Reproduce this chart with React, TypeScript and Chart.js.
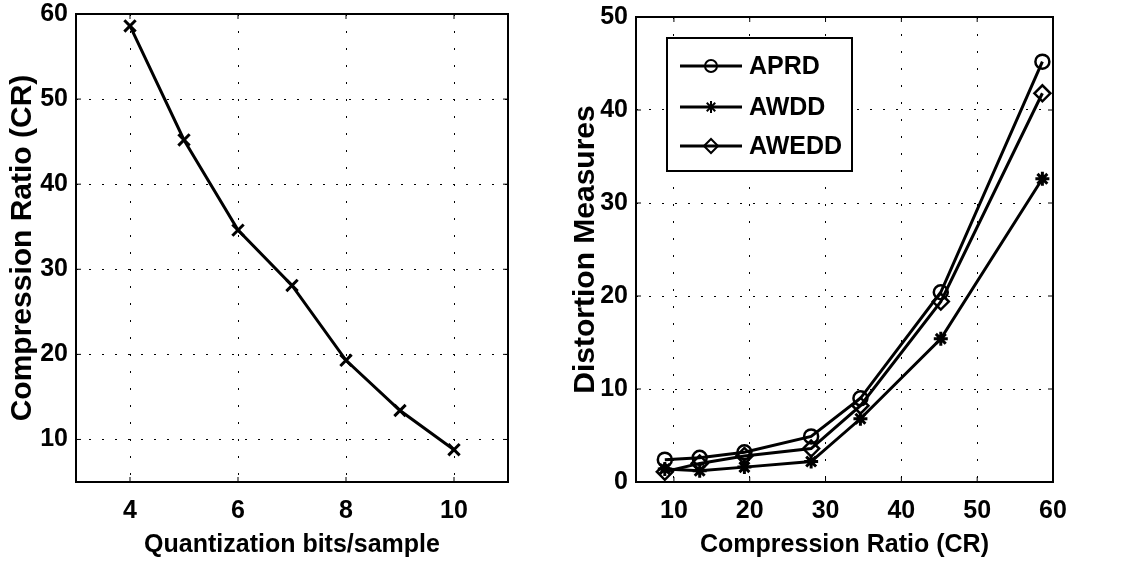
import React, { useEffect, useRef } from "react";
import { Chart, registerables } from "chart.js";
import { drawPoint } from "chart.js/helpers";

Chart.register(...registerables);

// ---------- data ----------
const bitsPerSample = [4, 5, 6, 7, 8, 9, 10];
const compressionRatio = [58.6, 45.2, 34.6, 28.1, 19.3, 13.4, 8.8];

const leftXTicks = [4, 6, 8, 10];
const leftYTicks = [10, 20, 30, 40, 50, 60];

const crValues = [8.8, 13.4, 19.3, 28.1, 34.6, 45.2, 58.6];
const aprd = [2.4, 2.6, 3.2, 4.9, 9.0, 20.4, 45.2];
const awdd = [1.4, 1.2, 1.6, 2.2, 6.8, 15.4, 32.6];
const awedd = [1.1, 2.0, 2.8, 3.6, 8.2, 19.4, 41.8];

const rightXTicks = [10, 20, 30, 40, 50, 60];
const rightYTicks = [0, 10, 20, 30, 40, 50];

const seriesNames = ["APRD", "AWDD", "AWEDD"];

const FONT = "'Liberation Sans', Arial, Helvetica, sans-serif";

const framePlugin = {
  id: "frame",
  afterDatasetsDraw(chart: any) {
    const { ctx, chartArea: a } = chart;
    ctx.save();
    ctx.strokeStyle = "#000";
    ctx.lineWidth = 2;
    ctx.setLineDash([]);
    ctx.strokeRect(a.left, a.top, a.right - a.left, a.bottom - a.top);
    ctx.lineWidth = 1;
    const xs = chart.scales.x;
    const ys = chart.scales.y;
    xs.ticks.forEach((t: any) => {
      const px = xs.getPixelForValue(t.value);
      ctx.beginPath();
      ctx.moveTo(px, a.bottom);
      ctx.lineTo(px, a.bottom - 5);
      ctx.moveTo(px, a.top);
      ctx.lineTo(px, a.top + 5);
      ctx.stroke();
    });
    ys.ticks.forEach((t: any) => {
      const py = ys.getPixelForValue(t.value);
      ctx.beginPath();
      ctx.moveTo(a.left, py);
      ctx.lineTo(a.left + 5, py);
      ctx.moveTo(a.right, py);
      ctx.lineTo(a.right - 5, py);
      ctx.stroke();
    });
    ctx.restore();
  },
};

const boxLegendPlugin = {
  id: "boxLegend",
  afterDraw(chart: any) {
    const { ctx, chartArea: a } = chart;
    const x0 = a.left + 31;
    const y0 = a.top + 21;
    const w = 185;
    const h = 133;
    ctx.save();
    ctx.fillStyle = "#fff";
    ctx.fillRect(x0, y0, w, h);
    ctx.strokeStyle = "#000";
    ctx.lineWidth = 2;
    ctx.setLineDash([]);
    ctx.strokeRect(x0, y0, w, h);
    const rows = [y0 + 28, y0 + 69, y0 + 108];
    chart.data.datasets.forEach((ds: any, i: number) => {
      const y = rows[i];
      ctx.strokeStyle = "#000";
      ctx.lineWidth = 3;
      ctx.beginPath();
      ctx.moveTo(x0 + 13, y);
      ctx.lineTo(x0 + 75, y);
      ctx.stroke();
      ctx.lineWidth = 2;
      ctx.fillStyle = "rgba(0,0,0,0)";
      drawPoint(
        ctx,
        {
          pointStyle: ds.pointStyle,
          radius: ds.pointRadius - 1,
          borderWidth: 2,
          rotation: 0,
        } as any,
        x0 + 44,
        y
      );
      ctx.fillStyle = "#000";
      ctx.font = `bold 25px ${FONT}`;
      ctx.textBaseline = "middle";
      ctx.textAlign = "left";
      ctx.fillText(ds.label, x0 + 82, y + 1);
    });
    ctx.restore();
  },
};

function axisBase(ticks: number[], dash: number[]) {
  return {
    type: "linear" as const,
    afterBuildTicks: (s: any) => {
      s.ticks = ticks.map((v) => ({ value: v }));
    },
    grid: {
      color: "#000",
      lineWidth: 1,
      drawTicks: false,
    },
    border: { display: false, dash },
  };
}

const tickFont = { family: FONT, size: 25, weight: "bold" as const };

function LeftChart() {
  const ref = useRef<HTMLCanvasElement>(null);
  useEffect(() => {
    const chart = new Chart(ref.current!, {
      type: "line",
      data: {
        datasets: [
          {
            label: "CR",
            data: bitsPerSample.map((b, i) => ({ x: b, y: compressionRatio[i] })),
            borderColor: "#000",
            borderWidth: 3,
            pointStyle: "crossRot",
            pointRadius: 8,
            pointBorderWidth: 3,
            pointBorderColor: "#000",
            pointBackgroundColor: "#000",
            tension: 0,
            clip: false,
          } as any,
        ],
      },
      options: {
        responsive: false,
        animation: false,
        layout: { padding: { top: 14, right: 52, left: 0, bottom: 0 } },
        plugins: { legend: { display: false }, tooltip: { enabled: false } },
        scales: {
          x: {
            ...axisBase(leftXTicks, [2, 15]),
            min: 3,
            max: 11,
            ticks: { color: "#000", font: tickFont, autoSkip: false, maxRotation: 0, padding: 14 },
            title: {
              display: true,
              text: "Quantization bits/sample",
              color: "#000",
              font: { family: FONT, size: 25, weight: "bold" },
              padding: { top: 0, bottom: 7 },
            },
            afterFit: (s: any) => {
              s.height = 85;
              s.paddingLeft = 0;
              s.paddingRight = 0;
            },
          },
          y: {
            ...axisBase(leftYTicks, [2, 11]),
            min: 5,
            max: 60,
            ticks: { color: "#000", font: tickFont, autoSkip: false, padding: 8 },
            title: {
              display: true,
              text: "Compression Ratio (CR)",
              color: "#000",
              font: { family: FONT, size: 30, weight: "bold" },
              padding: { top: 5, bottom: 0 },
            },
            afterFit: (s: any) => {
              s.width = 76;
              s.paddingTop = 0;
              s.paddingBottom = 0;
            },
          },
        },
      } as any,
      plugins: [framePlugin],
    });
    return () => chart.destroy();
  }, []);
  return (
    <canvas
      ref={ref}
      width={560}
      height={567}
      style={{ position: "absolute", left: 0, top: 0, width: 560, height: 567 }}
    />
  );
}

function RightChart() {
  const ref = useRef<HTMLCanvasElement>(null);
  useEffect(() => {
    const values = [aprd, awdd, awedd];
    const styles = ["circle", "star", "rectRot"];
    const radii = [7, 7, 8];
    const chart = new Chart(ref.current!, {
      type: "line",
      data: {
        datasets: values.map((vals, k) => ({
          label: seriesNames[k],
          data: crValues.map((c, i) => ({ x: c, y: vals[i] })),
          borderColor: "#000",
          borderWidth: 3,
          pointStyle: styles[k],
          pointRadius: radii[k],
          pointBorderWidth: k === 1 ? 3 : 2.5,
          pointBorderColor: "#000",
          pointBackgroundColor: "rgba(0,0,0,0)",
          tension: 0,
          clip: false,
        })) as any,
      },
      options: {
        responsive: false,
        animation: false,
        layout: { padding: { top: 17, right: 88, left: 0, bottom: 0 } },
        plugins: { legend: { display: false }, tooltip: { enabled: false } },
        scales: {
          x: {
            ...axisBase(rightXTicks, [2, 15]),
            min: 5,
            max: 60,
            ticks: { color: "#000", font: tickFont, autoSkip: false, maxRotation: 0, padding: 14 },
            title: {
              display: true,
              text: "Compression Ratio (CR)",
              color: "#000",
              font: { family: FONT, size: 25, weight: "bold" },
              padding: { top: 0, bottom: 7 },
            },
            afterFit: (s: any) => {
              s.height = 85;
              s.paddingLeft = 0;
              s.paddingRight = 0;
            },
          },
          y: {
            ...axisBase(rightYTicks, [2, 11]),
            min: 0,
            max: 50,
            ticks: { color: "#000", font: tickFont, autoSkip: false, padding: 8 },
            title: {
              display: true,
              text: "Distortion Measures",
              color: "#000",
              font: { family: FONT, size: 30, weight: "bold" },
              padding: { top: 8, bottom: 0 },
            },
            afterFit: (s: any) => {
              s.width = 76;
              s.paddingTop = 0;
              s.paddingBottom = 0;
            },
          },
        },
      } as any,
      plugins: [framePlugin, boxLegendPlugin],
    });
    return () => chart.destroy();
  }, []);
  return (
    <canvas
      ref={ref}
      width={581}
      height={567}
      style={{ position: "absolute", left: 560, top: 0, width: 581, height: 567 }}
    />
  );
}

export default function App() {
  return (
    <div
      style={{
        position: "absolute",
        left: 0,
        top: 0,
        width: 1141,
        height: 567,
        background: "#fff",
        overflow: "hidden",
      }}
    >
      <LeftChart />
      <RightChart />
    </div>
  );
}
